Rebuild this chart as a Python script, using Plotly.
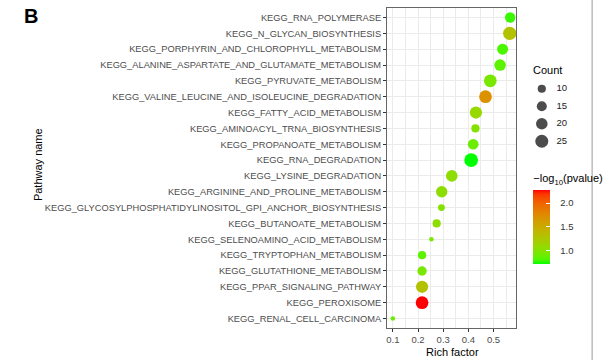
import numpy as np
import plotly.graph_objects as go

# ---------------- data ----------------
pathways = [
    "KEGG_RNA_POLYMERASE",
    "KEGG_N_GLYCAN_BIOSYNTHESIS",
    "KEGG_PORPHYRIN_AND_CHLOROPHYLL_METABOLISM",
    "KEGG_ALANINE_ASPARTATE_AND_GLUTAMATE_METABOLISM",
    "KEGG_PYRUVATE_METABOLISM",
    "KEGG_VALINE_LEUCINE_AND_ISOLEUCINE_DEGRADATION",
    "KEGG_FATTY_ACID_METABOLISM",
    "KEGG_AMINOACYL_TRNA_BIOSYNTHESIS",
    "KEGG_PROPANOATE_METABOLISM",
    "KEGG_RNA_DEGRADATION",
    "KEGG_LYSINE_DEGRADATION",
    "KEGG_ARGININE_AND_PROLINE_METABOLISM",
    "KEGG_GLYCOSYLPHOSPHATIDYLINOSITOL_GPI_ANCHOR_BIOSYNTHESIS",
    "KEGG_BUTANOATE_METABOLISM",
    "KEGG_SELENOAMINO_ACID_METABOLISM",
    "KEGG_TRYPTOPHAN_METABOLISM",
    "KEGG_GLUTATHIONE_METABOLISM",
    "KEGG_PPAR_SIGNALING_PATHWAY",
    "KEGG_PEROXISOME",
    "KEGG_RENAL_CELL_CARCINOMA",
]
rich_factor = [0.566, 0.564, 0.536, 0.526, 0.487, 0.468, 0.430, 0.428, 0.419, 0.411,
               0.334, 0.294, 0.293, 0.274, 0.253, 0.216, 0.216, 0.216, 0.216, 0.100]
counts = [16, 26, 18, 20, 24, 24, 22, 10, 17, 28,
          20, 19, 7, 10, 3, 10, 13, 22, 24, 3]
neg_log10_p = [0.78, 1.30, 0.80, 0.85, 0.95, 1.70, 1.10, 1.00, 0.90, 0.72,
               1.05, 1.05, 1.00, 1.05, 0.95, 0.85, 0.95, 1.30, 2.27, 0.90]

count_breaks = [10, 15, 20, 25]
x_ticks = [0.1, 0.2, 0.3, 0.4, 0.5]
cbar_ticks = [1.0, 1.5, 2.0]

# ---------------- helpers (styling) ----------------
def size_px(c):
    return 2.6 * np.sqrt(np.asarray(c, dtype=float))

_M = np.array([[0.4124564, 0.3575761, 0.1804375],
               [0.2126729, 0.7151522, 0.0721750],
               [0.0193339, 0.1191920, 0.9503041]])
_W = np.array([0.95047, 1.0, 1.08883])

def _to_lab(rgb):
    c = np.array(rgb, float) / 255
    c = np.where(c <= 0.04045, c / 12.92, ((c + 0.055) / 1.055) ** 2.4)
    xyz = _M @ c / _W
    f = np.where(xyz > 0.008856, np.cbrt(xyz), 7.787 * xyz + 16 / 116)
    return np.array([116 * f[1] - 16, 500 * (f[0] - f[1]), 200 * (f[1] - f[2])])

def _from_lab(lab):
    fy = (lab[0] + 16) / 116
    fx = fy + lab[1] / 500
    fz = fy - lab[2] / 200
    f = np.array([fx, fy, fz])
    xyz = np.where(f ** 3 > 0.008856, f ** 3, (f - 16 / 116) / 7.787) * _W
    c = np.linalg.solve(_M, xyz)
    c = np.where(c <= 0.0031308, 12.92 * c, 1.055 * np.abs(c) ** (1 / 2.4) - 0.055)
    c = np.clip(c, 0, 1) * 255
    return "rgb(%d,%d,%d)" % tuple(np.round(c).astype(int))

lo, hi = _to_lab((0, 255, 0)), _to_lab((255, 0, 0))
colorscale = [[t, _from_lab(lo + (hi - lo) * t)] for t in np.linspace(0, 1, 21)]

# ---------------- figure ----------------
W, H = 603, 360
L, R, T, B = 387, 0, 8, 32
panel_w = 134
pw = W - L - R
ph = H - T - B

def px_x(x):   # pixel -> paper x
    return (x - L) / pw

def px_y(y):   # pixel -> paper y
    return (H - B - y) / ph

xmin, xmax = min(rich_factor), max(rich_factor)
xpad = (xmax - xmin) * 0.05
n = len(pathways)
NB = "\u00a0"

fig = go.Figure()
fig.add_trace(go.Scatter(
    x=rich_factor, y=pathways, mode="markers",
    marker=dict(
        size=size_px(counts), sizemode="diameter",
        color=neg_log10_p, colorscale=colorscale,
        cmin=min(neg_log10_p), cmax=max(neg_log10_p),
        line=dict(width=0), opacity=1,
        colorbar=dict(
            x=px_x(539), xanchor="left", xpad=0,
            y=px_y(171), yanchor="top", ypad=0,
            len=93, lenmode="pixels", thickness=17,
            outlinewidth=0,
            tickvals=cbar_ticks, ticktext=[NB * 3 + "%.1f" % v for v in cbar_ticks],
            ticks="inside", ticklen=4, tickcolor="white", tickwidth=1,
            tickfont=dict(family="Liberation Sans", size=9.5, color="#333333"),
            title=dict(text="\u2212log<sub>10</sub>(pvalue)", side="top",
                       font=dict(family="Liberation Sans", size=11, color="black")),
        ),
    ),
    showlegend=False, hoverinfo="x+y",
))

# size legend (keys drawn from count_breaks on a small auxiliary axis)
fig.add_trace(go.Scatter(
    x=[0] * len(count_breaks), y=[str(c) for c in count_breaks], mode="markers",
    marker=dict(size=size_px(count_breaks), sizemode="diameter", color="black",
                line=dict(width=0)),
    xaxis="x2", yaxis="y2", showlegend=False, hoverinfo="skip",
))
fig.add_trace(go.Scatter(
    x=[1] * len(count_breaks), y=[str(c) for c in count_breaks], mode="text",
    text=[str(c) for c in count_breaks], textposition="middle right",
    textfont=dict(family="Liberation Sans", size=9.5, color="#222222"),
    xaxis="x2", yaxis="y2", showlegend=False, hoverinfo="skip",
))

grid = "#EBEBEB"
fig.update_layout(
    width=W, height=H,
    margin=dict(l=L, r=R, t=T, b=B, pad=0),
    paper_bgcolor="white", plot_bgcolor="white",
    font=dict(family="Liberation Sans", color="black"),
    xaxis=dict(
        domain=[0, panel_w / pw],
        range=[xmin - xpad, xmax + xpad],
        tickvals=x_ticks, ticktext=["%.1f" % v for v in x_ticks],
        ticks="outside", ticklen=3, tickcolor="#333333", tickwidth=1,
        ticklabelstandoff=0,
        tickfont=dict(family="Liberation Sans", size=9.5, color="#4D4D4D"),
        showgrid=True, gridcolor=grid, gridwidth=1,
        minor=dict(dtick=0.1, tick0=0.05, showgrid=True, gridcolor=grid, gridwidth=0.6, ticks=""),
        showline=True, linecolor="#666666", linewidth=1, mirror=True,
        zeroline=False, fixedrange=True,
    ),
    yaxis=dict(
        type="category", categoryorder="array", categoryarray=pathways,
        range=[n - 1 + 0.6, -0.6],
        ticks="outside", ticklen=3, tickcolor="#333333", tickwidth=1,
        tickfont=dict(family="Liberation Sans", size=9.3, color="#4D4D4D"),
        showgrid=True, gridcolor=grid, gridwidth=1,
        showline=True, linecolor="#666666", linewidth=1, mirror=True,
        zeroline=False, fixedrange=True,
    ),
    xaxis2=dict(domain=[px_x(537), 1], range=[-0.7, 3.6], visible=False, fixedrange=True),
    yaxis2=dict(domain=[px_y(150), px_y(80)], type="category",
                categoryorder="array", categoryarray=[str(c) for c in count_breaks],
                range=[len(count_breaks) - 0.5, -0.5], visible=False, fixedrange=True,
                anchor="x2"),
    annotations=[
        dict(text="<b>B</b>", x=px_x(8), y=px_y(3), xref="paper", yref="paper",
             xanchor="left", yanchor="top", showarrow=False,
             font=dict(family="Liberation Sans", size=20, color="black")),
        dict(text="Rich factor", x=px_x(455), y=px_y(352), xref="paper", yref="paper",
             xanchor="center", yanchor="middle", showarrow=False,
             font=dict(family="Liberation Sans", size=11, color="black")),
        dict(text="Pathway name", x=px_x(33), y=px_y(165), xref="paper", yref="paper",
             xanchor="right", yanchor="middle", showarrow=False, textangle=-90,
             font=dict(family="Liberation Sans", size=11, color="black")),
        dict(text="Count", x=px_x(537), y=px_y(70), xref="paper", yref="paper",
             xanchor="left", yanchor="middle", showarrow=False,
             font=dict(family="Liberation Sans", size=11, color="black")),
    ],
    shapes=[
        dict(type="line", xref="paper", yref="paper", x0=px_x(600), x1=px_x(600),
             y0=px_y(0), y1=px_y(360), line=dict(color="#9A9A9A", width=1)),
    ],
)

fig.write_html("out.html")
